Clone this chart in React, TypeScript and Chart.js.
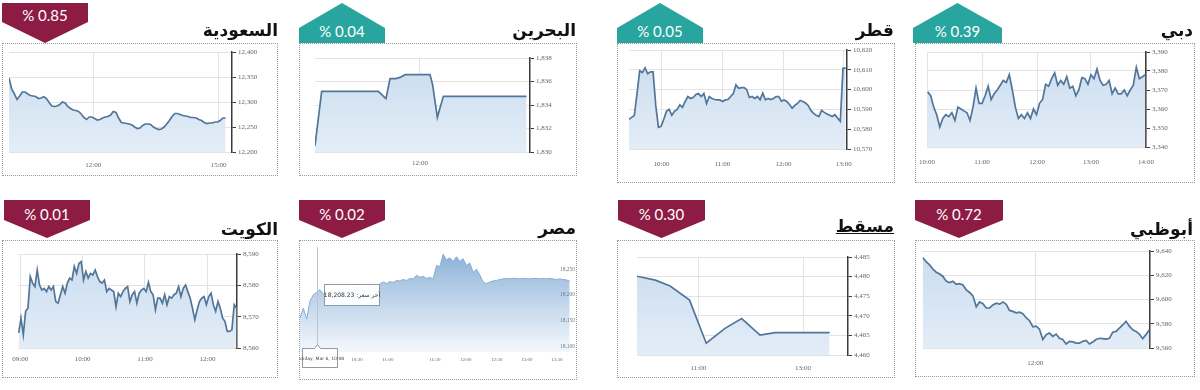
import React, { useEffect, useRef } from "react";
import { Chart, registerables } from "chart.js";

Chart.register(...registerables);

// ---------------- DATA ----------------
// Saudi (السعودية)
const saudiValues = [
  12348, 12326, 12316, 12305, 12312, 12320, 12320, 12316, 12313, 12312,
  12311, 12307, 12308, 12310.5, 12307, 12299, 12292, 12291, 12292, 12295,
  12300, 12298, 12291, 12287, 12284, 12283, 12281, 12276, 12269, 12265,
  12270, 12270, 12267, 12264, 12265, 12268, 12270, 12271, 12274, 12281,
  12279, 12268, 12259, 12258, 12257, 12256, 12254, 12250, 12247, 12248,
  12253, 12256, 12256, 12255, 12250, 12247, 12245, 12246, 12250, 12256,
  12263, 12271, 12277, 12277, 12275, 12273, 12272, 12271, 12269, 12269,
  12268, 12265, 12263, 12259, 12257, 12258, 12258, 12260, 12260, 12263,
  12268, 12268,
];
const saudiTickAt = [31.5, 78.4];
const saudiTickLabels = ["12:00", "15:00"];
const saudiYTicks = [12200, 12250, 12300, 12350, 12400];

// Bahrain (البحرين)
const bahrainX = [0, 3.1, 29.5, 31.5, 33, 34.9, 37.7, 39.5, 41.9, 53.5, 54.7, 56.9, 59.7, 98.4];
const bahrainValues = [1830.54, 1835.16, 1835.16, 1834.8, 1834.54, 1836.24, 1836.24, 1836.35, 1836.58, 1836.58, 1835.73, 1832.95, 1834.74, 1834.74];
const bahrainTickAt = [48.8];
const bahrainTickLabels = ["12:00"];
const bahrainYTicks = [1830, 1832, 1834, 1836, 1838];

// Qatar (قطر)
const qatarValues = [
  10585, 10586, 10587, 10598, 10609.5, 10608.6, 10611, 10608, 10609, 10609,
  10592, 10581, 10581.5, 10585, 10589, 10590, 10587, 10589, 10590, 10592.3,
  10591, 10594, 10596.5, 10595.5, 10596, 10597.5, 10598, 10596.5, 10598, 10593,
  10596.5, 10595.5, 10595, 10594.8, 10594.8, 10594, 10594.8, 10595, 10596.5, 10598,
  10602.4, 10600.7, 10601, 10601, 10600, 10596, 10596.5, 10595.5, 10596.5, 10594.8,
  10598.2, 10594.8, 10595.5, 10595, 10595.5, 10596.5, 10596.5, 10594.2, 10594.8, 10594,
  10592.5, 10590.6, 10592, 10593, 10594.5, 10594, 10593.2, 10592, 10589.5, 10588,
  10587, 10586.4, 10589.5, 10588.5, 10587.7, 10587, 10586.4, 10587.3, 10585.6, 10584,
  10610.8, 10610.8,
];
const qatarTickAt = [12.125, 34.875, 57.75, 80.25];
const qatarTickLabels = ["10:00", "11:00", "12:00", "13:00"];
const qatarYTicks = [10570, 10580, 10590, 10600, 10610, 10620];

// Dubai (دبي)
const dubaiValues = [
  3369, 3367, 3361, 3357, 3350.5, 3355, 3357, 3356, 3358, 3354,
  3361, 3360, 3359, 3358, 3354, 3361, 3371, 3363, 3363, 3367,
  3372, 3365, 3368, 3370, 3372.5, 3375, 3374, 3378, 3370, 3361,
  3355, 3357, 3355, 3358, 3355, 3360, 3357, 3363, 3365, 3373,
  3372, 3376, 3379, 3372.5, 3375, 3373, 3377, 3371, 3372, 3367,
  3370, 3376.5, 3376, 3373, 3378, 3376, 3381, 3375, 3372.5, 3373,
  3375, 3368, 3371, 3368, 3368, 3370, 3367, 3370, 3372.5, 3382,
  3376, 3377, 3378,
];
const dubaiTickAt = [-0.22, 17.97, 36.2, 54.0, 72.2];
const dubaiTickLabels = ["10:00", "11:00", "12:00", "13:00", "14:00"];
const dubaiYTicks = [3340, 3350, 3360, 3370, 3380, 3390];

// Kuwait (الكويت)
const kuwaitValues = [
  8564.8, 8569.5, 8564.2, 8571.7, 8572.7, 8582.8, 8580.7, 8579.6, 8584.9, 8580.1,
  8578.5, 8579, 8578, 8579.6, 8578.5, 8579.6, 8574.8, 8574.3, 8577, 8579.6,
  8577.5, 8580.7, 8582.3, 8581.7, 8586, 8583.8, 8587, 8587.6, 8581.7, 8584.4,
  8582.3, 8583.8, 8583.3, 8584.9, 8582.8, 8581.2, 8580.7, 8581.7, 8578, 8579,
  8578.5, 8578, 8573.2, 8577.5, 8576.4, 8578, 8579, 8579.6, 8574.8, 8577,
  8578, 8574.3, 8577.5, 8578.5, 8579, 8578, 8581, 8578, 8577, 8572.2,
  8575.9, 8575.9, 8574.3, 8577, 8573.8, 8576.4, 8575.9, 8577, 8577.5, 8579.6,
  8576.4, 8579, 8580.1, 8578, 8575.9, 8572.7, 8569, 8572.2, 8574.8, 8575.9,
  8576.4, 8573.8, 8576.4, 8577.5, 8573.8, 8571.7, 8574.8, 8572.7, 8569.5, 8568.5,
  8565.3, 8565.3, 8565.8, 8573.8, 8572.7,
];
const kuwaitTickAt = [0.72, 27.6, 54.5, 81.5];
const kuwaitTickLabels = ["09:00", "10:00", "11:00", "12:00"];
const kuwaitYTicks = [8560, 8570, 8580, 8590];

// Egypt (مصر)
const egyptValues = [
  18155, 18174, 18153, 18188, 18200, 18205, 18210, 18201, 18207, 18206,
  18210, 18207, 18211, 18210, 18213, 18211, 18214, 18213, 18215, 18214,
  18216, 18215, 18218, 18219, 18221, 18225, 18222, 18226, 18224, 18228,
  18227, 18230, 18228, 18232, 18231, 18238, 18234, 18236, 18232, 18234,
  18231, 18257, 18255, 18279, 18268, 18272, 18265, 18274, 18265, 18270,
  18257, 18262, 18244, 18250, 18239, 18225, 18222, 18225, 18227, 18228,
  18230, 18231, 18232, 18231, 18232, 18232, 18231, 18232, 18232, 18231,
  18232, 18232, 18231, 18232, 18231, 18232, 18231, 18230, 18231, 18230,
  18229, 18227,
];
const egyptTickAt = [17.1, 26.4, 40.5, 49.8, 59.1, 68.1, 77.1];
const egyptTickLabels = ["10:30", "11:00", "11:30", "12:00", "12:30", "13:00", "13:30"];
const egyptYTicks = [18100, 18150, 18200, 18250];
const egyptCrossIndex = 5;
const egyptTooltipText = "آخر سعر: 18,208.23";
const egyptDateText = "Sunday, Mar 6, 10:08";

// Muscat (مسقط)
const muscatX = [0, 8.7, 15.7, 24.9, 32.8, 41.7, 49.6, 58.3, 65.4, 74, 91.3];
const muscatValues = [4480.1, 4479.1, 4477.6, 4474, 4463, 4466.8, 4469.3, 4465.1, 4465.7, 4465.7, 4465.7];
const muscatTickAt = [29.1, 78.7];
const muscatTickLabels = ["11:00", "13:00"];
const muscatYTicks = [4460, 4465, 4470, 4475, 4480, 4485];

// Abu Dhabi (أبوظبي)
const abuDhabiValues = [
  9634.5, 9631, 9628.5, 9625, 9622.5, 9621, 9619, 9615, 9614, 9615,
  9612.5, 9613, 9612, 9608, 9605.8, 9603, 9594, 9598, 9596.5, 9593,
  9593, 9595.5, 9597, 9596.2, 9598, 9596, 9591, 9590.2, 9589, 9589.5,
  9588.2, 9585, 9582.5, 9577.5, 9578, 9575.5, 9567, 9571, 9572.3, 9569.6,
  9571.5, 9568, 9567, 9563.3, 9565.5, 9565, 9564, 9564, 9565.5, 9566.3,
  9563.3, 9565, 9567, 9568, 9567.7, 9567.4, 9568, 9573, 9573.7, 9576.4,
  9579, 9582, 9578, 9575, 9573.7, 9571.5, 9567.7, 9571, 9575,
];
const abuDhabiTickAt = [33.7];
const abuDhabiTickLabels = ["12:00"];
const abuDhabiYTicks = [9560, 9580, 9600, 9620, 9640];

// ---------------- LAYOUT ----------------
type Box = { x: number; y: number; w: number; h: number };
type Panel = {
  key: string;
  title: string;
  change: string;
  up: boolean;
  box: Box;
  plot: { l: number; t: number; r: number; b: number };
  values: number[];
  xs?: number[];
  xMin: number;
  xMax: number;
  xTicks: number[];
  xLabels: string[];
  yTicks: number[];
  yMin: number;
  yMax: number;
  labelPad: number;
  badge: { x: number; y: number; w: number; h: number; shoulder: number; textY: number };
  titleRight: number;
  titleTop: number;
  underline?: boolean;
  egypt?: boolean;
};

const TEAL = "#27a59e";
const MAROON = "#8c1c43";

const panels: Panel[] = [
  {
    key: "saudi", title: "السعودية", change: "% 0.85", up: false,
    box: { x: 2, y: 43, w: 276, h: 133 }, plot: { l: 9, t: 52, r: 232, b: 152 },
    values: saudiValues, xMin: 0, xMax: 83.4, xTicks: saudiTickAt, xLabels: saudiTickLabels,
    yTicks: saudiYTicks, yMin: 12200, yMax: 12400, labelPad: 9,
    badge: { x: 2, y: 3, w: 86, h: 40, shoulder: 0.475, textY: 12 }, titleRight: 278, titleTop: 20,
  },
  {
    key: "bahrain", title: "البحرين", change: "% 0.04", up: true,
    box: { x: 299, y: 43, w: 278, h: 133 }, plot: { l: 315, t: 58, r: 530, b: 152 },
    values: bahrainValues, xs: bahrainX, xMin: 0, xMax: 100, xTicks: bahrainTickAt, xLabels: bahrainTickLabels,
    yTicks: bahrainYTicks, yMin: 1830, yMax: 1838, labelPad: 7,
    badge: { x: 299, y: 3, w: 86, h: 40, shoulder: 0.625, textY: 28 }, titleRight: 576, titleTop: 20,
  },
  {
    key: "qatar", title: "قطر", change: "% 0.05", up: true,
    box: { x: 617, y: 43, w: 278, h: 140 }, plot: { l: 629, t: 50, r: 847, b: 149 },
    values: qatarValues, xMin: 0, xMax: 81.5, xTicks: qatarTickAt, xLabels: qatarTickLabels,
    yTicks: qatarYTicks, yMin: 10570, yMax: 10620, labelPad: 11,
    badge: { x: 617, y: 3, w: 86, h: 40, shoulder: 0.625, textY: 28 }, titleRight: 894, titleTop: 20,
  },
  {
    key: "dubai", title: "دبي", change: "% 0.39", up: true,
    box: { x: 915, y: 43, w: 280, h: 140 }, plot: { l: 927, t: 52, r: 1146, b: 147 },
    values: dubaiValues, xMin: -0.22, xMax: 72.2, xTicks: dubaiTickAt, xLabels: dubaiTickLabels,
    yTicks: dubaiYTicks, yMin: 3340, yMax: 3390, labelPad: 11,
    badge: { x: 913, y: 3, w: 89, h: 40, shoulder: 0.625, textY: 28 }, titleRight: 1193, titleTop: 20,
  },
  {
    key: "kuwait", title: "الكويت", change: "% 0.01", up: false,
    box: { x: 2, y: 240, w: 276, h: 138 }, plot: { l: 18, t: 254, r: 237, b: 348 },
    values: kuwaitValues, xMin: -0.29, xMax: 94.2, xTicks: kuwaitTickAt, xLabels: kuwaitTickLabels,
    yTicks: kuwaitYTicks, yMin: 8560, yMax: 8590, labelPad: 7,
    badge: { x: 4, y: 200, w: 86, h: 38, shoulder: 0.526, textY: 14 }, titleRight: 278, titleTop: 219,
  },
  {
    key: "egypt", title: "مصر", change: "% 0.02", up: false,
    box: { x: 299, y: 240, w: 278, h: 140 }, plot: { l: 300, t: 247, r: 573, b: 352 },
    values: egyptValues, xMin: 0, xMax: 82, xTicks: egyptTickAt, xLabels: egyptTickLabels,
    yTicks: egyptYTicks, yMin: 18089, yMax: 18293, labelPad: 5,
    badge: { x: 299, y: 200, w: 86, h: 38, shoulder: 0.526, textY: 14 }, titleRight: 576, titleTop: 218,
    egypt: true,
  },
  {
    key: "muscat", title: "مسقط", change: "% 0.30", up: false,
    box: { x: 617, y: 240, w: 278, h: 138 }, plot: { l: 637, t: 257, r: 848, b: 355 },
    values: muscatValues, xs: muscatX, xMin: 0, xMax: 100, xTicks: muscatTickAt, xLabels: muscatTickLabels,
    yTicks: muscatYTicks, yMin: 4460, yMax: 4485, labelPad: 9,
    badge: { x: 618, y: 200, w: 87, h: 38, shoulder: 0.526, textY: 14 }, titleRight: 894, titleTop: 216,
    underline: true,
  },
  {
    key: "abudhabi", title: "أبوظبي", change: "% 0.72", up: false,
    box: { x: 915, y: 240, w: 280, h: 137 }, plot: { l: 922, t: 251, r: 1150, b: 348 },
    values: abuDhabiValues, xMin: -0.3, xMax: 68.2, xTicks: abuDhabiTickAt, xLabels: abuDhabiTickLabels,
    yTicks: abuDhabiYTicks, yMin: 9560, yMax: 9640, labelPad: 11,
    badge: { x: 915, y: 200, w: 88, h: 38, shoulder: 0.526, textY: 14 }, titleRight: 1193, titleTop: 219,
  },
];

const egyptOverlay = {
  id: "egyptOverlay",
  afterDraw(chart: any) {
    const { ctx, chartArea, scales } = chart;
    const x = Math.round(scales.x.getPixelForValue(egyptCrossIndex)) + 0.5;
    const y = scales.y.getPixelForValue(egyptValues[egyptCrossIndex]);
    ctx.save();
    ctx.strokeStyle = "#b9c3cd";
    ctx.lineWidth = 1;
    ctx.beginPath();
    ctx.moveTo(x, chartArea.top);
    ctx.lineTo(x, chartArea.bottom - 4);
    ctx.stroke();
    // tooltip box
    const bx = Math.round(x + 6) + 0.5;
    const by = Math.round(y - 8) + 0.5;
    const bw = 55;
    const bh = 21;
    ctx.fillStyle = "rgba(255,255,255,0.96)";
    ctx.strokeStyle = "#8c9aa8";
    ctx.fillRect(bx, by, bw, bh);
    ctx.strokeRect(bx, by, bw, bh);
    ctx.fillStyle = "#333";
    ctx.font = '6px "DejaVu Sans"';
    ctx.textAlign = "center";
    ctx.textBaseline = "middle";
    ctx.fillText(egyptTooltipText, bx + bw / 2, by + bh / 2);
    // date label box at the bottom
    const dx = Math.round(x - 16) + 0.5;
    const dy = Math.round(chartArea.bottom - 4) + 0.5;
    const dw = 35;
    const dh = 19;
    ctx.fillStyle = "#fff";
    ctx.strokeStyle = "#8c9aa8";
    ctx.beginPath();
    ctx.moveTo(dx, dy);
    ctx.lineTo(x - 3, dy);
    ctx.lineTo(x, dy - 4);
    ctx.lineTo(x + 3, dy);
    ctx.lineTo(dx + dw, dy);
    ctx.lineTo(dx + dw, dy + dh);
    ctx.lineTo(dx, dy + dh);
    ctx.closePath();
    ctx.fill();
    ctx.stroke();
    ctx.fillStyle = "#444";
    ctx.font = '4.5px "DejaVu Sans"';
    ctx.fillText(egyptDateText, dx + dw / 2, dy + dh / 2 + 1);
    ctx.restore();
  },
};

function PanelChart({ p }: { p: Panel }) {
  const ref = useRef<HTMLCanvasElement>(null);
  useEffect(() => {
    const canvas = ref.current;
    if (!canvas) return;
    const isE = !!p.egypt;
    const padL = p.plot.l - p.box.x;
    const padT = p.plot.t - p.box.y;
    const yW = p.box.x + p.box.w - p.plot.r;
    const xH = p.box.y + p.box.h - p.plot.b;
    const data = p.values.map((v, i) => ({ x: p.xs ? p.xs[i] : i, y: v }));
    const tickFont = { family: '"Liberation Serif", serif', size: 7 };
    const chart = new Chart(canvas, {
      type: "line",
      data: {
        datasets: [
          {
            data,
            borderColor: isE ? "#88add4" : "#52769a",
            borderWidth: isE ? 1 : 1.7,
            pointRadius: 0,
            tension: 0,
            fill: "start",
            backgroundColor: (c: any) => {
              const ch = c.chart;
              const a = ch.chartArea;
              if (!a) return "rgba(210,226,242,0.85)";
              const g = ch.ctx.createLinearGradient(0, a.top, 0, a.bottom);
              if (isE) {
                g.addColorStop(0, "#84acd5");
                g.addColorStop(0.45, "#b9d0e8");
                g.addColorStop(1, "#f4f8fc");
              } else {
                g.addColorStop(0, "#cadcef");
                g.addColorStop(1, "#e3edf7");
              }
              return g;
            },
          },
        ],
      },
      options: {
        responsive: false,
        animation: false,
        devicePixelRatio: 1,
        events: [],
        layout: { padding: { left: padL, top: padT, right: 0, bottom: 0 } },
        plugins: { legend: { display: false }, tooltip: { enabled: false } },
        scales: {
          x: {
            type: "linear",
            min: p.xMin,
            max: p.xMax,
            afterBuildTicks: (s: any) => {
              s.ticks = p.xTicks.map((v) => ({ value: v }));
            },
            afterFit: (s: any) => {
              s.height = xH;
              s.paddingLeft = 0;
              s.paddingRight = 0;
            },
            ticks: {
              callback: (_v: any, i: number) => p.xLabels[i],
              autoSkip: false,
              maxRotation: 0,
              minRotation: 0,
              padding: p.labelPad,
              color: "#666",
              font: isE ? { family: '"Liberation Serif", serif', size: 5 } : tickFont,
            },
            grid: { display: !isE, color: "#e3e3e3", drawTicks: false, lineWidth: 1 },
            border: { display: false },
          },
          y: {
            position: "right",
            min: p.yMin,
            max: p.yMax,
            afterBuildTicks: (s: any) => {
              s.ticks = p.yTicks.map((v) => ({ value: v }));
            },
            afterFit: (s: any) => {
              s.width = yW;
              s.paddingTop = 0;
              s.paddingBottom = 0;
            },
            ticks: {
              z: isE ? 1 : 0,
              callback: (v: any) => Number(v).toLocaleString("en-US"),
              padding: 2,
              mirror: isE,
              color: isE ? "#6f7d8b" : "#666",
              font: isE ? { family: '"Liberation Serif", serif', size: 5.5 } : tickFont,
            },
            grid: {
              display: !isE,
              color: "#e3e3e3",
              drawTicks: !isE,
              tickLength: 4,
              tickColor: "#3a3a3a",
            },
            border: { display: !isE, color: "#3a3a3a", width: 1.5 },
          },
        },
      } as any,
      plugins: isE ? [egyptOverlay] : [],
    } as any);
    return () => chart.destroy();
  }, []);
  return (
    <canvas
      ref={ref}
      width={p.box.w}
      height={p.box.h}
      style={{ position: "absolute", left: p.box.x, top: p.box.y, width: p.box.w, height: p.box.h }}
    />
  );
}

function Badge({ p }: { p: Panel }) {
  const b = p.badge;
  const s = b.shoulder * 100;
  const clip = p.up
    ? `polygon(50% 0, 100% ${s}%, 100% 100%, 0 100%, 0 ${s}%)`
    : `polygon(0 0, 100% 0, 100% ${s}%, 50% 100%, 0 ${s}%)`;
  return (
    <div
      style={{
        position: "absolute",
        left: b.x,
        top: b.y,
        width: b.w,
        height: b.h,
        background: p.up ? TEAL : MAROON,
        clipPath: clip,
      }}
    >
      <div
        style={{
          position: "absolute",
          left: 0,
          width: b.w,
          top: b.textY - 9,
          height: 18,
          lineHeight: "18px",
          textAlign: "center",
          color: "#fff",
          fontFamily: "Lato, 'Open Sans', sans-serif",
          fontSize: 15,
          direction: "ltr",
          whiteSpace: "nowrap",
        }}
      >
        {p.change}
      </div>
    </div>
  );
}

export default function App() {
  return (
    <div style={{ position: "absolute", left: 0, top: 0, width: 1200, height: 390, background: "#fff", overflow: "hidden" }}>
      {panels.map((p) => (
        <React.Fragment key={p.key}>
          <PanelChart p={p} />
          <div
            style={{
              position: "absolute",
              left: p.box.x,
              top: p.box.y,
              width: p.box.w,
              height: p.box.h,
              boxSizing: "border-box",
              border: "1px dotted #9a9a9a",
              pointerEvents: "none",
            }}
          />
          <Badge p={p} />
          <div
            style={{
              position: "absolute",
              right: 1200 - p.titleRight,
              top: p.titleTop,
              height: 20,
              lineHeight: "20px",
              fontFamily: "'DejaVu Sans', sans-serif",
              fontWeight: "bold",
              fontSize: 17,
              color: "#111",
              direction: "rtl",
              whiteSpace: "nowrap",
              textDecoration: p.underline ? "underline" : "none",
            }}
          >
            {p.title}
          </div>
        </React.Fragment>
      ))}
    </div>
  );
}
